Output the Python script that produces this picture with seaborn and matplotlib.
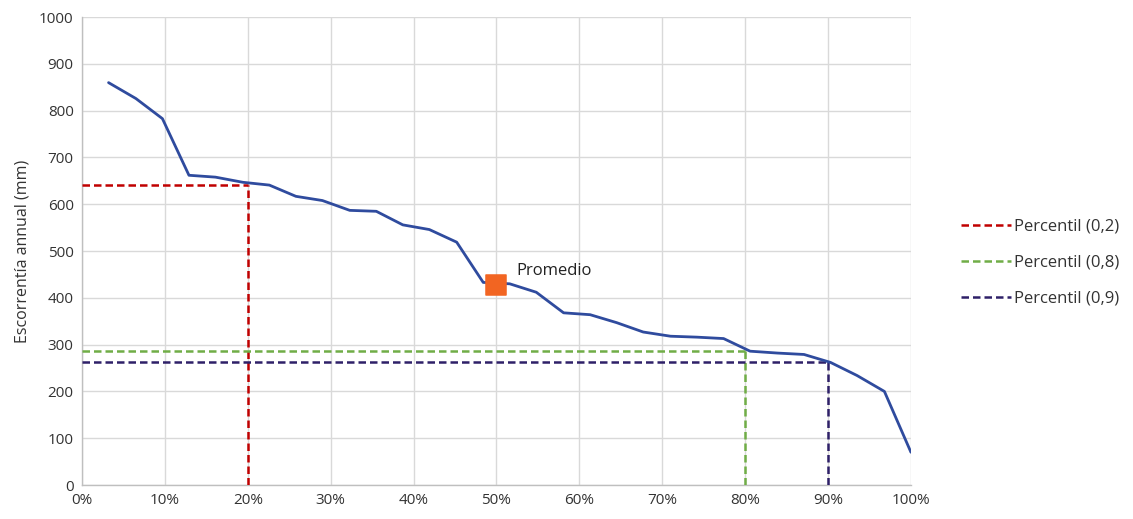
import matplotlib
matplotlib.use("Agg")
import matplotlib.pyplot as plt
import seaborn as sns
import pandas as pd
from matplotlib.ticker import PercentFormatter

# Data
prob_pct = [3.2, 6.5, 9.7, 12.9, 16.1, 19.4, 22.6, 25.8, 29.0, 32.3, 35.5, 38.7,
            41.9, 45.2, 48.4, 51.6, 54.8, 58.1, 61.3, 64.5, 67.7, 71.0, 74.2,
            77.4, 80.6, 83.9, 87.1, 90.3, 93.5, 96.8, 100.0]
runoff_mm = [860, 826, 783, 662, 658, 647, 641, 617, 608, 587, 585, 556,
             546, 519, 433, 430, 412, 368, 364, 347, 327, 318, 316,
             313, 286, 282, 279, 262, 234, 200, 70]

pct_labels = ["Percentil (0,2)", "Percentil (0,8)", "Percentil (0,9)"]
pct_x = [20, 80, 90]
pct_y = [641, 286, 262]
pct_colors = ["#C00000", "#70AD47", "#2E2068"]

mean_x = [49.9]
mean_y = [428]
mean_label = "Promedio"

sns.set_theme(style="white")
plt.rcParams['font.family'] = ['Open Sans', 'DejaVu Sans']

fig = plt.figure(figsize=(11.33, 5.19), dpi=100)
ax = fig.add_axes([0.0724, 0.0655, 0.7316, 0.9015])

df = pd.DataFrame({"p": prob_pct, "q": runoff_mm})
sns.lineplot(data=df, x="p", y="q", ax=ax, color="#2F4B9E", linewidth=2.0, zorder=4)

handles = []
for lab, px, py, c in zip(pct_labels, pct_x, pct_y, pct_colors):
    h, = ax.plot([0, px], [py, py], linestyle=(0, (3, 1.6)), color=c, linewidth=1.8,
                 label=lab, zorder=3)
    ax.plot([px, px], [0, py], linestyle=(0, (3, 1.6)), color=c, linewidth=1.8, zorder=3)
    handles.append(h)

sns.scatterplot(x=mean_x, y=mean_y, ax=ax, marker="s", s=190, color="#F26522",
                edgecolor="#F26522", zorder=5, legend=False)
ax.annotate(mean_label, (mean_x[0], mean_y[0]), xytext=(15, 10), textcoords="offset points",
            fontsize=12, color="#222222", va="center", ha="left")

ax.set_xlim(0, 100)
ax.set_ylim(0, 1000)
ax.set_xticks(range(0, 101, 10))
ax.set_yticks(range(0, 1001, 100))
ax.xaxis.set_major_formatter(PercentFormatter(decimals=0))
ax.grid(True, color="#D9D9D9", linewidth=1.0)
ax.set_axisbelow(True)
for s in ["top", "right"]:
    ax.spines[s].set_visible(False)
for s in ["left", "bottom"]:
    ax.spines[s].set_color("#BFBFBF")
    ax.spines[s].set_linewidth(1.0)
ax.tick_params(axis="both", labelsize=11, colors="#333333", length=0, pad=6)
ax.set_xlabel("")
ax.set_ylabel("Escorrentía annual (mm)", fontsize=11.5, color="#333333", labelpad=6)

leg = fig.legend(handles=handles, labels=pct_labels, loc="upper left",
                 bbox_to_anchor=(0.835, 0.607), frameon=False, fontsize=12,
                 handlelength=3.0, handletextpad=0.2, labelspacing=1.2)
for t in leg.get_texts():
    t.set_color("#333333")

fig.savefig("out.png", dpi=100)
